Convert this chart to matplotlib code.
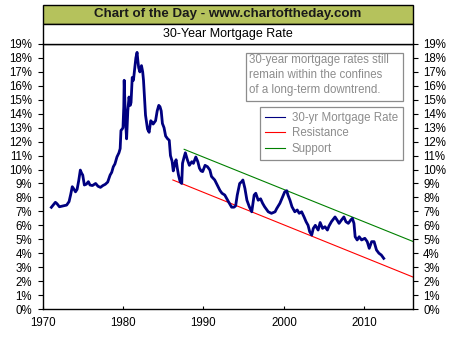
import matplotlib
matplotlib.use("Agg")
import matplotlib.pyplot as plt
from matplotlib.patches import Rectangle
from matplotlib.ticker import MultipleLocator, FuncFormatter

plt.rcParams['font.family'] = ['Liberation Sans', 'DejaVu Sans']

# --- 30-yr fixed mortgage rate (%) ---
years = [1971.1, 1971.4, 1971.6, 1971.8, 1972.1, 1972.5, 1973.0, 1973.3, 1973.5, 1973.7,
         1973.9, 1974.1, 1974.3, 1974.5, 1974.7, 1974.85, 1975.0, 1975.2, 1975.45, 1975.7,
         1975.9, 1976.2, 1976.6, 1976.9, 1977.2, 1977.5, 1977.8, 1978.1, 1978.4, 1978.6,
         1978.8, 1979.0, 1979.25, 1979.5, 1979.65, 1979.75, 1979.9, 1980.0, 1980.1, 1980.15,
         1980.22, 1980.3, 1980.45, 1980.6, 1980.75, 1980.9, 1981.0, 1981.15, 1981.3, 1981.45,
         1981.6, 1981.75, 1981.85, 1981.95, 1982.1, 1982.3, 1982.45, 1982.55, 1982.65, 1982.8,
         1983.05, 1983.25, 1983.45, 1983.6, 1983.75, 1984.05, 1984.25, 1984.45, 1984.6, 1984.75,
         1984.9, 1985.1, 1985.3, 1985.55, 1985.75, 1985.9, 1986.1, 1986.25, 1986.45, 1986.6,
         1986.75, 1986.9, 1987.1, 1987.3, 1987.4, 1987.6, 1987.75, 1987.9, 1988.0, 1988.25,
         1988.55, 1988.75, 1989.05, 1989.3, 1989.5, 1989.7, 1989.9, 1990.2, 1990.5, 1990.8,
         1991.0, 1991.4, 1991.7, 1992.05, 1992.3, 1992.65, 1992.9, 1993.1, 1993.5, 1993.8,
         1994.0, 1994.2, 1994.5, 1994.75, 1994.9, 1995.15, 1995.4, 1995.7, 1996.0, 1996.3,
         1996.5, 1996.8, 1997.1, 1997.35, 1997.6, 1998.05, 1998.45, 1998.9, 1999.1, 1999.5,
         1999.85, 2000.1, 2000.35, 2000.5, 2000.75, 2001.0, 2001.35, 2001.65, 2001.9, 2002.2,
         2002.5, 2002.75, 2003.0, 2003.2, 2003.45, 2003.65, 2003.9, 2004.25, 2004.5, 2004.8,
         2005.1, 2005.4, 2005.6, 2005.9, 2006.35, 2006.6, 2006.85, 2007.15, 2007.45, 2007.7,
         2008.0, 2008.3, 2008.5, 2008.7, 2008.85, 2009.1, 2009.35, 2009.65, 2010.05, 2010.35,
         2010.6, 2010.9, 2011.2, 2011.5, 2011.8, 2012.1, 2012.4]
rates = [7.29, 7.5, 7.65, 7.55, 7.33, 7.38, 7.45, 7.7, 8.2, 8.77,
         8.6, 8.4, 8.58, 9.2, 9.96, 9.75, 9.6, 8.89, 8.95, 9.13,
         8.89, 8.85, 9.0, 8.8, 8.72, 8.85, 8.94, 9.1, 9.6, 9.8,
         10.2, 10.4, 10.9, 11.2, 11.5, 12.8, 12.9, 13.0, 14.5, 16.4,
         15.2, 13.7, 12.2, 14.2, 15.2, 14.6, 14.8, 16.6, 16.4, 17.2,
         18.0, 18.4, 17.8, 17.3, 17.0, 17.45, 17.0, 16.4, 15.4, 13.9,
         12.9, 12.67, 13.5, 13.4, 13.26, 13.5, 14.2, 14.6, 14.5, 14.2,
         13.3, 13.0, 12.4, 12.2, 12.1, 11.0, 10.6, 9.9, 10.45, 10.7,
         10.1, 9.6, 9.13, 9.0, 10.45, 10.9, 11.2, 10.9, 10.7, 10.3,
         10.56, 10.44, 10.9, 10.56, 10.1, 9.9, 9.85, 10.3, 10.2, 9.96,
         9.5, 9.25, 8.9, 8.5, 8.3, 8.17, 7.9, 7.7, 7.3, 7.3,
         7.4, 8.17, 9.0, 9.13, 9.25, 8.65, 7.8, 7.33, 6.97, 8.17,
         8.3, 7.8, 7.9, 7.58, 7.33, 6.97, 6.86, 6.97, 7.2, 7.58,
         8.05, 8.4, 8.48, 8.17, 7.8, 7.33, 6.97, 7.1, 6.86, 6.97,
         6.6, 6.26, 6.0, 5.54, 5.3, 5.78, 6.0, 5.66, 6.2, 5.78,
         5.9, 5.66, 5.95, 6.26, 6.6, 6.38, 6.14, 6.38, 6.6, 6.26,
         6.14, 6.38, 6.5, 6.14, 5.18, 4.95, 5.18, 4.95, 5.07, 4.83,
         4.35, 4.83, 4.83, 4.23, 4.0, 3.87, 3.63]

# trend channel end points
resistance_years = [1986.2, 2016]
resistance_rates = [9.25, 2.3]
support_years = [1987.6, 2016]
support_rates = [11.45, 4.85]

W, H = 454, 340
fig = plt.figure(figsize=(W / 100, H / 100), dpi=100)

def fx(px):
    return px / W

def fy(py):
    return 1 - py / H

left, right, top, bottom = 42.5, 412.7, 44, 309
ax = fig.add_axes([fx(left), fy(bottom), fx(right - left), fy(top) - fy(bottom)])

ax.plot(years, rates, color='#000080', lw=2.0, label='30-yr Mortgage Rate', zorder=3)
ax.plot(resistance_years, resistance_rates, color='#ff0000', lw=0.8, label='Resistance')
ax.plot(support_years, support_rates, color='#008000', lw=0.8, label='Support')

ax.set_xlim(1970, 2016)
ax.set_ylim(0, 19)
ax.xaxis.set_major_locator(MultipleLocator(10))
ax.yaxis.set_major_locator(MultipleLocator(1))
ax.yaxis.set_major_formatter(FuncFormatter(lambda v, p: f"{v:.0f}%"))
ax.tick_params(axis='y', which='both', left=True, right=True, labelleft=True, labelright=True,
               direction='out', length=3.5, width=0.8, pad=4, labelsize=8.3)
ax.tick_params(axis='x', direction='in', length=2.5, width=0.8, pad=6, labelsize=8.3, top=False)
for s in ax.spines.values():
    s.set_linewidth(1.0)

# header strips
fig.patches.append(Rectangle((fx(left), fy(24)), fx(right - left), fy(5) - fy(24),
                             transform=fig.transFigure, facecolor='#b5c25c',
                             edgecolor='black', lw=1.0))
fig.patches.append(Rectangle((fx(left), fy(44)), fx(right - left), fy(24) - fy(44),
                             transform=fig.transFigure, facecolor='white',
                             edgecolor='black', lw=1.0))
fig.text(fx((left + right) / 2), fy(14.5), 'Chart of the Day - www.chartoftheday.com',
         ha='center', va='center', fontsize=9.6, fontweight='bold', color='#1a1a1a')
fig.text(fx((left + right) / 2), fy(34), '30-Year Mortgage Rate',
         ha='center', va='center', fontsize=9, color='black')

# comment box
fig.patches.append(Rectangle((fx(246), fy(100.7)), fx(403.3 - 246), fy(52.7) - fy(100.7),
                             transform=fig.transFigure, facecolor='white',
                             edgecolor='#8c8c8c', lw=0.9, zorder=5))
fig.text(fx(249), fy(54.5),
         '30-year mortgage rates still\nremain within the confines\nof a long-term downtrend.',
         ha='left', va='top', fontsize=8.3, color='#8c8c8c', linespacing=1.28, zorder=6)

leg = ax.legend(loc='upper right', bbox_to_anchor=(fx(403.3), fy(106.7)),
                bbox_transform=fig.transFigure, borderaxespad=0, frameon=True,
                fancybox=False, edgecolor='#8c8c8c', framealpha=1, fontsize=8.3,
                handlelength=1.7, handletextpad=0.6, labelspacing=0.3, borderpad=0.45)
leg.get_frame().set_linewidth(0.9)
for t in leg.get_texts():
    t.set_color('#8c8c8c')
for h in leg.get_lines():
    h.set_linewidth(0.8)

fig.savefig('out.png', dpi=100)
